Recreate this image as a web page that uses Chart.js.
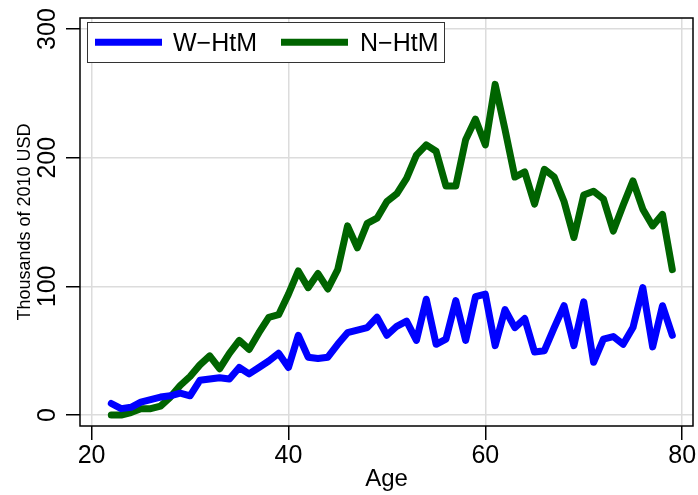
<!DOCTYPE html>
<html>
<head>
<meta charset="utf-8">
<script src="https://cdn.jsdelivr.net/npm/chart.js@4.4.1/dist/chart.umd.min.js"></script>
<style>
  html, body { margin: 0; padding: 0; background: #fff; }
  #wrap { width: 698px; height: 495px; }
</style>
</head>
<body>
<div id="wrap"><canvas id="c" width="698" height="495"></canvas></div>
<script>
// datos (miles de USD de 2010)
const ages = [22,23,24,25,26,27,28,29,30,31,32,33,34,35,36,37,38,39,40,41,
              42,43,44,45,46,47,48,49,50,51,52,53,54,55,56,57,58,59,60,61,
              62,63,64,65,66,67,68,69,70,71,72,73,74,75,76,77,78,79];
const wHtM = [9,5,6,10,12,14,15,17,15,27,28,29,28,37,32,37,42,48,37,62,
              45,44,45,55,64,66,68,76,62,69,73,58,90,55,59,89,58,92,94,54,
              82,68,75,49,50,68,85,54,88,41,59,61,55,68,99,53,85,62];
const nHtM = [0,0,2,5,5,7,14,23,30,39,46,36,48,58,51,64,76,78,94,112,
              99,110,98,113,147,130,149,153,166,172,184,202,210,205,178,178,214,230,210,257,
              222,185,189,164,191,185,166,138,171,174,168,143,163,182,160,147,156,113];
const seriesLabels = ['W\u2212HtM', 'N\u2212HtM'];
const seriesColors = ['#0000ff', '#006400'];
const xTicks = [20, 40, 60, 80];
const yTicks = [0, 100, 200, 300];

const FONT = '"Liberation Sans", Arial, Helvetica, sans-serif';

// marco negro, etiquetas rotadas del eje y y leyenda dentro del área
const stataPlugin = {
  id: 'stata',
  afterDraw(chart) {
    const { ctx, chartArea: a, scales } = chart;
    ctx.save();

    // etiquetas del eje y, giradas 90°
    ctx.fillStyle = '#000';
    ctx.font = '25px ' + FONT;
    ctx.textAlign = 'center';
    ctx.textBaseline = 'alphabetic';
    yTicks.forEach(v => {
      const py = scales.y.getPixelForValue(v);
      ctx.save();
      ctx.translate(55, py);
      ctx.rotate(-Math.PI / 2);
      ctx.fillText(String(v), 0, 0);
      ctx.restore();
    });

    // marco
    ctx.strokeStyle = '#000';
    ctx.lineWidth = 1.5;
    ctx.strokeRect(a.left, a.top, a.right - a.left, a.bottom - a.top);

    // leyenda
    const lx = 87, ly = 22, lw = 357, lh = 40;
    ctx.fillStyle = '#fff';
    ctx.fillRect(lx, ly, lw, lh);
    ctx.strokeStyle = '#333';
    ctx.lineWidth = 1;
    ctx.strokeRect(lx + 0.5, ly + 0.5, lw, lh);
    const items = [
      { x0: 95, x1: 162, tx: 173 },
      { x0: 281, x1: 348, tx: 360 }
    ];
    ctx.font = '25px ' + FONT;
    ctx.textAlign = 'left';
    ctx.textBaseline = 'alphabetic';
    items.forEach((it, i) => {
      ctx.strokeStyle = seriesColors[i];
      ctx.lineWidth = 7;
      ctx.lineCap = 'butt';
      ctx.beginPath();
      ctx.moveTo(it.x0, 42.3);
      ctx.lineTo(it.x1, 42.3);
      ctx.stroke();
      ctx.fillStyle = '#000';
      ctx.fillText(seriesLabels[i], it.tx, 51);
    });
    ctx.restore();
  }
};

const mkData = vals => ages.map((a, i) => ({ x: a, y: vals[i] }));

new Chart(document.getElementById('c').getContext('2d'), {
  type: 'line',
  data: {
    datasets: [wHtM, nHtM].map((vals, i) => ({
      label: seriesLabels[i],
      data: mkData(vals),
      borderColor: seriesColors[i],
      backgroundColor: seriesColors[i],
      borderWidth: 7,
      borderJoinStyle: 'round',
      borderCapStyle: 'round',
      pointRadius: 0,
      tension: 0,
      fill: false
    }))
  },
  options: {
    responsive: false,
    animation: false,
    layout: { padding: { top: 15, right: 5, left: 0, bottom: 0 } },
    plugins: { legend: { display: false }, tooltip: { enabled: false } },
    scales: {
      x: {
        type: 'linear',
        min: 18.82,
        max: 81.1,
        afterBuildTicks: s => { s.ticks = xTicks.map(v => ({ value: v })); },
        afterFit: s => { s.height = 69; },
        border: { display: false },
        grid: { color: '#dcdcdc', lineWidth: 1.5, drawTicks: true, tickLength: 14, tickColor: '#000', tickWidth: 1.5 },
        ticks: { color: '#000', font: { family: FONT, size: 25 }, padding: 1, maxRotation: 0 },
        title: { display: true, text: 'Age', color: '#000', font: { family: FONT, size: 24 }, padding: { top: 0, bottom: 1 } }
      },
      y: {
        type: 'linear',
        min: -8.5,
        max: 308.6,
        afterBuildTicks: s => { s.ticks = yTicks.map(v => ({ value: v })); },
        afterFit: s => { s.width = 80; },
        border: { display: false },
        grid: { color: '#dcdcdc', lineWidth: 1.5, drawTicks: true, tickLength: 14, tickColor: '#000', tickWidth: 1.5 },
        ticks: { color: 'rgba(0,0,0,0)', font: { family: FONT, size: 25 } },
        title: { display: true, text: 'Thousands of 2010 USD', color: '#000', font: { family: FONT, size: 18 }, padding: { top: 14, bottom: 0 } }
      }
    }
  },
  plugins: [stataPlugin]
});
</script>
</body>
</html>
